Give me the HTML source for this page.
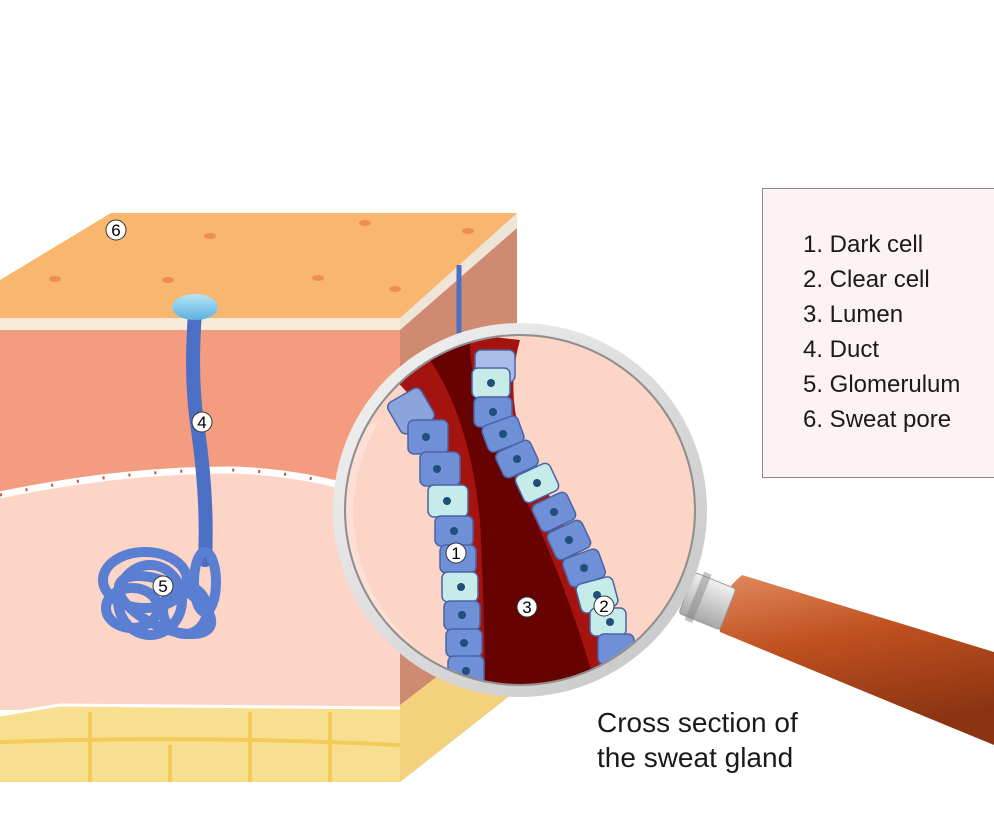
<!DOCTYPE html>
<html><head><meta charset="utf-8"><style>
html,body{margin:0;padding:0;background:#fff;}
svg{display:block;}
text{font-family:"Liberation Sans",Arial,sans-serif;}
</style></head><body>
<svg width="994" height="828" viewBox="0 0 994 828" xmlns="http://www.w3.org/2000/svg">
<defs>
<linearGradient id="handle" x1="0" y1="0" x2="0.3" y2="1">
<stop offset="0" stop-color="#e08a5e"/><stop offset="0.45" stop-color="#c0501f"/><stop offset="1" stop-color="#8a3412"/>
</linearGradient>
<linearGradient id="ring" x1="0" y1="0" x2="1" y2="1">
<stop offset="0" stop-color="#f4f4f4"/><stop offset="1" stop-color="#c4c4c4"/>
</linearGradient>
<linearGradient id="collar" x1="0" y1="0" x2="0" y2="1">
<stop offset="0" stop-color="#f0f0f0"/><stop offset="1" stop-color="#a8a8a8"/>
</linearGradient>
<clipPath id="lens"><circle cx="520" cy="510" r="174"/></clipPath>
<linearGradient id="drop" x1="0" y1="0" x2="0" y2="1"><stop offset="0" stop-color="#b8e4f6"/><stop offset="1" stop-color="#5ab2e0"/></linearGradient>
</defs>

<!-- right side face -->
<polygon points="400,318 517,213 517,690 400,782" fill="#cf8a72"/>
<polygon points="400,318 517,213 517,228 400,330" fill="#efe4d8"/>
<polygon points="400,705 517,615 517,690 400,782" fill="#f3d27e"/>
<!-- top face -->
<polygon points="0,280 111,213 517,213 400,318 0,318" fill="#f8b66e"/>
<rect x="0" y="318" width="400" height="12" fill="#f6ebd8"/>
<rect x="0" y="330" width="400" height="380" fill="#f49c80"/>
<path d="M0,495 Q120,470 230,470 Q320,472 400,505 L400,710 L0,710 Z" fill="#fcd5c6"/>
<path d="M0,495 Q120,470 230,470 Q320,472 400,505" fill="none" stroke="#fff" stroke-width="7"/>
<path d="M0,495 Q120,470 230,470 Q320,472 400,505" fill="none" stroke="#c8504a" stroke-width="3" stroke-dasharray="2 24"/>
<!-- fat -->
<path d="M0,715 L60,705 L400,708 L400,782 L0,782 Z" fill="#f8df8f"/>
<path d="M0,715 L60,705 L400,708" fill="none" stroke="#fff" stroke-width="3"/>
<g fill="none" stroke="#f3cb58" stroke-width="4">
<path d="M0,742 Q200,735 400,745"/><path d="M90,712 L90,782"/><path d="M250,712 L250,782"/><path d="M330,712 L330,782"/><path d="M170,745 L170,782"/>
</g>
<g fill="#ef8f4e">
<ellipse cx="210" cy="236" rx="6" ry="3"/><ellipse cx="365" cy="223" rx="6" ry="3"/><ellipse cx="468" cy="231" rx="6" ry="3"/>
<ellipse cx="55" cy="279" rx="6" ry="3"/><ellipse cx="168" cy="280" rx="6" ry="3"/><ellipse cx="318" cy="278" rx="6" ry="3"/><ellipse cx="395" cy="289" rx="6" ry="3"/>
</g>
<!-- duct -->
<path d="M195,312 Q190,380 198,430 Q208,500 205,560" fill="none" stroke="#4b6fc4" stroke-width="14" stroke-linecap="round"/>
<path d="M459,265 L459,340" stroke="#4b6fc4" stroke-width="5"/>
<ellipse cx="195" cy="307" rx="23" ry="13" fill="url(#drop)"/>
<!-- glomerulum -->
<g fill="none" stroke="#5a7fd2" stroke-width="10">
<ellipse cx="145" cy="580" rx="42" ry="28"/>
<ellipse cx="165" cy="605" rx="50" ry="22" transform="rotate(25 165 605)"/>
<ellipse cx="150" cy="600" rx="32" ry="35"/>
<ellipse cx="205" cy="582" rx="11" ry="30"/>
<ellipse cx="132" cy="608" rx="26" ry="20"/>
<ellipse cx="185" cy="610" rx="22" ry="24"/>
</g>
<g font-size="17" text-anchor="middle">
<circle cx="116" cy="230" r="10" fill="#fff" stroke="#333"/><text x="116" y="236">6</text>
<circle cx="202" cy="422" r="10" fill="#fff" stroke="#333"/><text x="202" y="428">4</text>
<circle cx="163" cy="586" r="10" fill="#fff" stroke="#333"/><text x="163" y="592">5</text>
</g>

<!-- handle -->
<path d="M742,575 L994,652 L994,745 L720,632 Q712,600 742,575 Z" fill="url(#handle)"/>
<g transform="rotate(22 710 600)">
<rect x="686" y="580" width="44" height="44" rx="3" fill="url(#collar)" stroke="#999"/>
<rect x="694" y="576" width="8" height="52" fill="#888" opacity="0.5"/>
</g>

<!-- magnifier -->
<circle cx="520" cy="510" r="187" fill="url(#ring)"/>
<circle cx="520" cy="510" r="175" fill="#a9a9a9"/>
<g clip-path="url(#lens)">
<rect x="330" y="320" width="380" height="380" fill="#fcd5c7"/>
<path d="M395,380 Q440,420 450,520 Q455,620 460,700 L620,700 Q590,560 540,480 Q500,410 520,340 L430,330 Z" fill="#a5130f"/>
<path d="M430,360 Q470,420 480,520 Q485,620 485,700 L600,700 Q560,560 510,470 Q470,400 470,340 Z" fill="#660200"/>
<g stroke="#4a64a8" stroke-width="1.5">
<rect x="392" y="393" width="38" height="36" rx="6" fill="#8ba4dc" transform="rotate(-30 411 411)"/>
<rect x="408" y="420" width="40" height="34" rx="6" fill="#6f8fd6"/>
<rect x="420" y="452" width="40" height="34" rx="6" fill="#6f8fd6"/>
<rect x="428" y="485" width="40" height="32" rx="6" fill="#c7ebe8"/>
<rect x="435" y="516" width="38" height="30" rx="6" fill="#6f8fd6"/>
<rect x="440" y="545" width="36" height="28" rx="6" fill="#6f8fd6"/>
<rect x="442" y="572" width="36" height="30" rx="6" fill="#c7ebe8"/>
<rect x="444" y="601" width="36" height="29" rx="6" fill="#6f8fd6"/>
<rect x="446" y="629" width="36" height="28" rx="6" fill="#6f8fd6"/>
<rect x="448" y="656" width="36" height="30" rx="6" fill="#6f8fd6"/>
</g>
<g stroke="#4a64a8" stroke-width="1.5">
<rect x="475" y="350" width="40" height="32" rx="6" fill="#a9bde8"/>
<rect x="472" y="368" width="38" height="30" rx="6" fill="#c7ebe8"/>
<rect x="474" y="397" width="38" height="30" rx="6" fill="#6f8fd6"/>
<rect x="484" y="420" width="38" height="28" rx="6" fill="#6f8fd6" transform="rotate(-20 503 434)"/>
<rect x="498" y="445" width="38" height="28" rx="6" fill="#6f8fd6" transform="rotate(-25 517 459)"/>
<rect x="518" y="468" width="38" height="30" rx="6" fill="#c7ebe8" transform="rotate(-25 537 483)"/>
<rect x="535" y="497" width="38" height="30" rx="6" fill="#6f8fd6" transform="rotate(-25 554 512)"/>
<rect x="550" y="525" width="38" height="30" rx="6" fill="#6f8fd6" transform="rotate(-25 569 540)"/>
<rect x="565" y="553" width="38" height="30" rx="6" fill="#6f8fd6" transform="rotate(-20 584 568)"/>
<rect x="578" y="580" width="38" height="30" rx="6" fill="#c7ebe8" transform="rotate(-15 597 595)"/>
<rect x="590" y="608" width="36" height="28" rx="6" fill="#c7ebe8"/>
<rect x="598" y="634" width="36" height="30" rx="6" fill="#6f8fd6"/>
</g>
<g fill="#1f4f7a">
<circle cx="426" cy="437" r="4"/><circle cx="437" cy="469" r="4"/><circle cx="447" cy="501" r="4"/><circle cx="454" cy="531" r="4"/><circle cx="458" cy="559" r="4"/><circle cx="461" cy="587" r="4"/><circle cx="462" cy="615" r="4"/><circle cx="464" cy="643" r="4"/><circle cx="466" cy="671" r="4"/>
<circle cx="491" cy="383" r="4"/><circle cx="493" cy="412" r="4"/><circle cx="503" cy="434" r="4"/><circle cx="517" cy="459" r="4"/><circle cx="537" cy="483" r="4"/><circle cx="554" cy="512" r="4"/><circle cx="569" cy="540" r="4"/><circle cx="584" cy="568" r="4"/><circle cx="597" cy="595" r="4"/><circle cx="610" cy="622" r="4"/>
</g>
<path d="M360,430 A170,170 0 0 0 420,650 A175,175 0 0 1 380,420 Z" fill="#fff" opacity="0.25"/>
</g>
<circle cx="520" cy="510" r="175" fill="none" stroke="#8f8f8f" stroke-width="2"/>
<g font-size="17" text-anchor="middle">
<circle cx="456" cy="553" r="10" fill="#fff" stroke="#333"/><text x="456" y="559">1</text>
<circle cx="604" cy="606" r="10" fill="#fff" stroke="#333"/><text x="604" y="612">2</text>
<circle cx="527" cy="607" r="10" fill="#fff" stroke="#333"/><text x="527" y="613">3</text>
</g>

<rect x="762.5" y="188.5" width="240" height="289" fill="#fdf3f2" stroke="#8a8a8a"/>
<g font-size="24" fill="#1a1a1a">
<text x="803" y="252">1. Dark cell</text>
<text x="803" y="287">2. Clear cell</text>
<text x="803" y="322">3. Lumen</text>
<text x="803" y="357">4. Duct</text>
<text x="803" y="392">5. Glomerulum</text>
<text x="803" y="427">6. Sweat pore</text>
</g>
<g font-size="28" fill="#1a1a1a">
<text x="597" y="732">Cross section of</text>
<text x="597" y="767">the sweat gland</text>
</g>
</svg>
</body></html>
